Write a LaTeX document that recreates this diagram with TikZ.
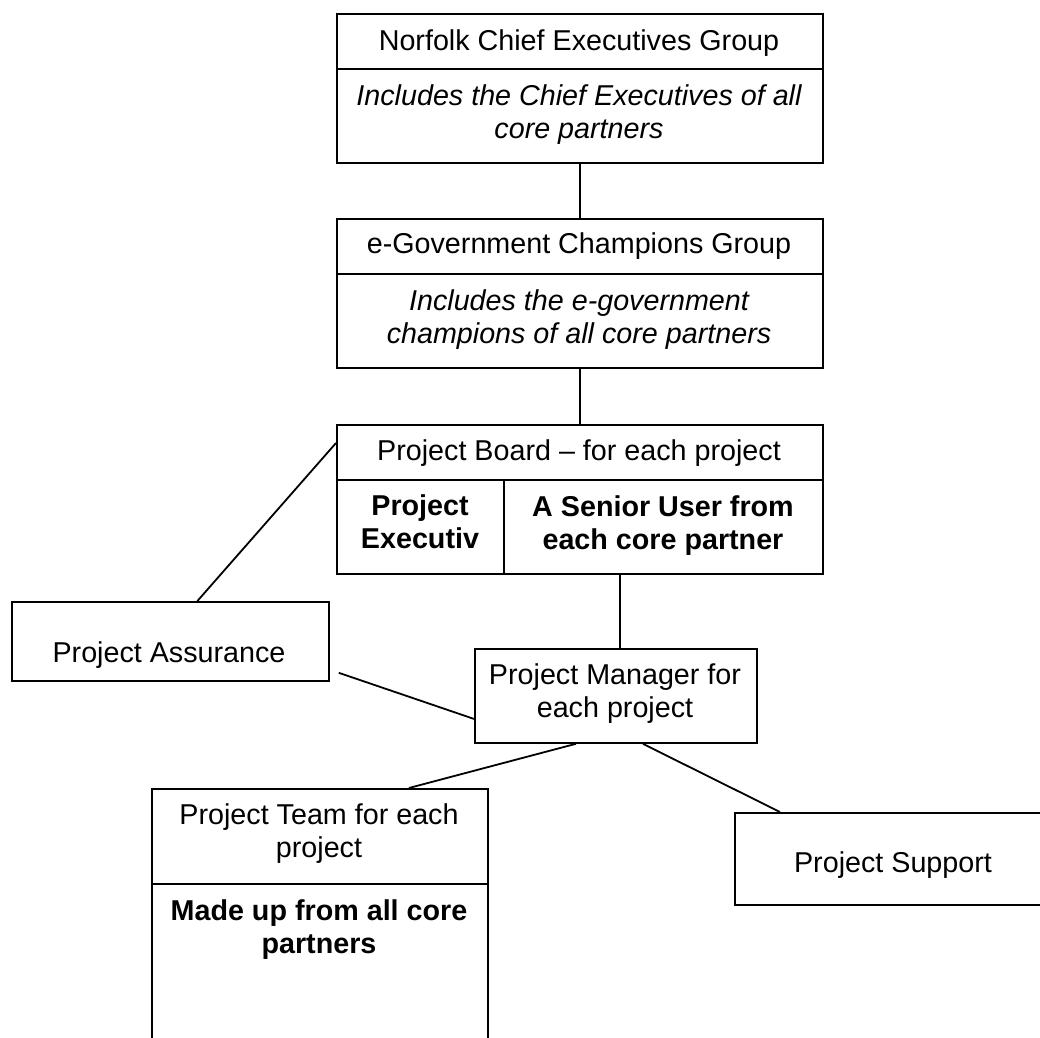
\documentclass[tikz,border=0pt]{standalone}
\usepackage{fontspec}
\setmainfont{Liberation Sans}
\begin{document}
\begin{tikzpicture}[x=1pt,y=-1pt,
  box/.style={draw, line width=1.8pt, rectangle, inner sep=0pt, anchor=north west},
  txt/.style={anchor=base, inner sep=0pt, align=center, font=\fontsize{28.7}{33}\selectfont},
  itxt/.style={txt, font=\fontsize{28.7}{33}\selectfont\itshape},
  btxt/.style={txt, font=\fontsize{28.7}{33}\selectfont\bfseries},
  link/.style={line width=1.8pt},
  divider/.style={line width=1.8pt}]
\useasboundingbox (0,0) rectangle (1040,1037);
\clip (0,0) rectangle (1040,1037);

% boxes
\node[box, minimum width=486pt, minimum height=149pt] (ceg) at (336,13) {};
\node[box, minimum width=486pt, minimum height=149pt] (egov) at (336,218) {};
\node[box, minimum width=486pt, minimum height=149pt] (board) at (336,424) {};
\node[box, minimum width=317pt, minimum height=79pt] (assur) at (11,601) {};
\node[box, minimum width=282pt, minimum height=94pt] (mgr) at (474,648) {};
\node[box, minimum width=336pt, minimum height=280pt] (team) at (151,788) {};
\node[box, minimum width=318pt, minimum height=92pt] (supp) at (734,812) {};

% dividers
\draw[divider] (ceg.west |- 0,69) -- (ceg.east |- 0,69);
\draw[divider] (egov.west |- 0,274) -- (egov.east |- 0,274);
\draw[divider] (board.west |- 0,480) -- (board.east |- 0,480);
\draw[divider] (504,480) -- (504,573);
\draw[divider] (team.west |- 0,884) -- (team.east |- 0,884);

% texts (multi-line nodes: base = last line's baseline)
\node[txt] (t1) at (579,50) {Norfolk Chief Executives Group};
\node[itxt] (t2) at (579,138) {Includes the Chief Executives of all\\core partners};
\node[txt] (t3) at (579,253) {e-Government Champions Group};
\node[itxt] (t4) at (579,343) {Includes the e-government\\champions of all core partners};
\node[txt] (t5) at (579,460) {Project Board – for each project};
\node[btxt] (t6) at (420,548) {Project\\Executiv};
\node[btxt] (t7) at (663,549) {A Senior User from\\each core partner};
\node[txt] (t8) at (169,662) {Project Assurance};
\node[txt] (t9) at (615,717) {Project Manager for\\each project};
\node[txt] (t10) at (319,857) {Project Team for each\\project};
\node[btxt] (t11) at (319,953) {Made up from all core\\partners};
\node[txt] (t12) at (893,872) {Project Support};

% connectors
\draw[link] (ceg.south) -- (egov.north);
\draw[link] (egov.south) -- (board.north);
\draw[link] ([xshift=4pt]mgr.north) -- ([xshift=4pt]mgr.north |- board.south);
\draw[link] ([xshift=27pt]assur.north) -- ([yshift=-19pt]board.north west);
\draw[link] ([xshift=9pt,yshift=9pt]assur.south east) -- ([yshift=-23pt]mgr.west);
\draw[link] ([xshift=-40pt]mgr.south) -- ([xshift=89pt]team.north);
\draw[link] ([xshift=27pt]mgr.south) -- ([xshift=46pt]supp.north west);
\end{tikzpicture}
\end{document}
